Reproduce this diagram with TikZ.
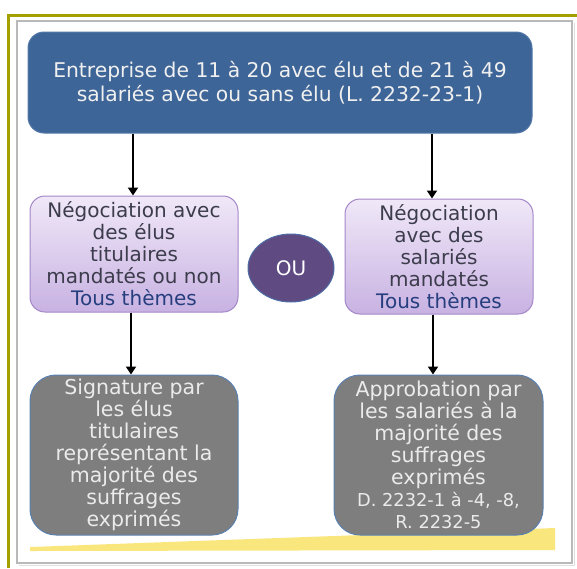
\documentclass[tikz,border=0pt]{standalone}
\usepackage{fontspec}
\setmainfont{DejaVu Sans}
\usetikzlibrary{arrows.meta,shapes.geometric}
\definecolor{olive}{HTML}{A3A000}
\definecolor{topblue}{HTML}{3E6597}
\definecolor{topedge}{HTML}{5479A8}
\definecolor{lavtop}{HTML}{F0E8F8}
\definecolor{lavbot}{HTML}{C8B2E2}
\definecolor{lavedge}{HTML}{A487C8}
\definecolor{darktxt}{HTML}{3C3C4C}
\definecolor{themeblue}{HTML}{263E7E}
\definecolor{grayfill}{HTML}{7E7E7E}
\definecolor{grayedge}{HTML}{5A80B0}
\definecolor{ouviolet}{HTML}{604A82}
\definecolor{ouedge}{HTML}{4E6CA6}
\definecolor{band}{HTML}{F9E77E}
\tikzset{
  topbox/.style={draw=topedge, line width=1pt, fill=topblue, rounded corners=16pt,
    minimum width=504pt, minimum height=101pt, align=center, text=white!94!black,
    font=\fontsize{20.3}{24}\selectfont, inner sep=0pt},
  lavbox/.style={draw=lavedge, line width=1pt, top color=lavtop, bottom color=lavbot,
    rounded corners=15pt, align=center, text=darktxt,
    font=\fontsize{20}{22}\selectfont, inner sep=0pt},
  graybox/.style={draw=grayedge, line width=1pt, fill=grayfill, rounded corners=26pt,
    align=center, text=white!92!black, minimum height=160pt,
    font=\fontsize{20.5}{22}\selectfont, inner sep=0pt},
  arr/.style={line width=2.4pt, -{Triangle[length=8pt,width=10pt]}},
}
\begin{document}
\begin{tikzpicture}[x=1pt,y=-1pt]
\useasboundingbox (0,0) rectangle (577,568);
\fill[white] (0,0) rectangle (577,568);
% frames
\draw[gray!55, line width=1.2pt] (17,21) rectangle (572,563);
\draw[gray!25, line width=1pt] (19,565) -- (574,565) -- (574,23);
\draw[olive, line width=3pt] (8.5,568) -- (8.5,15) -- (577,15);
% yellow band
\fill[band] (30,547) -- (555,528) -- (555,550) -- (30,551) -- cycle;
% nodes
\node[topbox] (top) at (280,82.5) {Entreprise de 11 à 20 avec élu et de 21 à 49\\salariés avec ou sans élu (L. 2232-23-1)};
\node[lavbox, minimum width=208pt, minimum height=116pt] (lp) at (134,254)
  {Négociation avec\\des élus\\titulaires\\mandatés ou non\\\textcolor{themeblue}{Tous thèmes}};
\node[lavbox, minimum width=188pt, minimum height=115pt] (rp) at (439,256.5)
  {Négociation\\avec des\\salariés\\mandatés\\\textcolor{themeblue}{Tous thèmes}};
\node[draw=ouedge, line width=1pt, fill=ouviolet, ellipse, minimum width=86pt, minimum height=68pt,
  text=white, font=\fontsize{20}{22}\selectfont, inner sep=0pt] (ou) at (291,268) {OU};
\node[graybox, minimum width=208pt] (bl) at (134,455)
  {Signature par\\les élus\\titulaires\\représentant la\\majorité des\\suffrages\\exprimés};
\node[graybox, minimum width=209pt] (br) at (438.5,455)
  {Approbation par\\les salariés à la\\majorité des\\suffrages\\exprimés\\{\fontsize{17.8}{20}\selectfont D. 2232-1 à -4, -8,}\\{\fontsize{17.8}{20}\selectfont R. 2232-5}};
% connectors
\draw[arr] ([xshift=-1pt]lp.north |- top.south) -- ([xshift=-1pt]lp.north);
\draw[arr] ([xshift=-7pt]rp.north |- top.south) -- ([xshift=-7pt]rp.north);
\draw[arr] ([xshift=-3pt]lp.south) -- ([xshift=-3pt]lp.south |- bl.north);
\draw[arr] ([xshift=-6pt]rp.south) -- ([xshift=-6pt]rp.south |- br.north);
\end{tikzpicture}
\end{document}
